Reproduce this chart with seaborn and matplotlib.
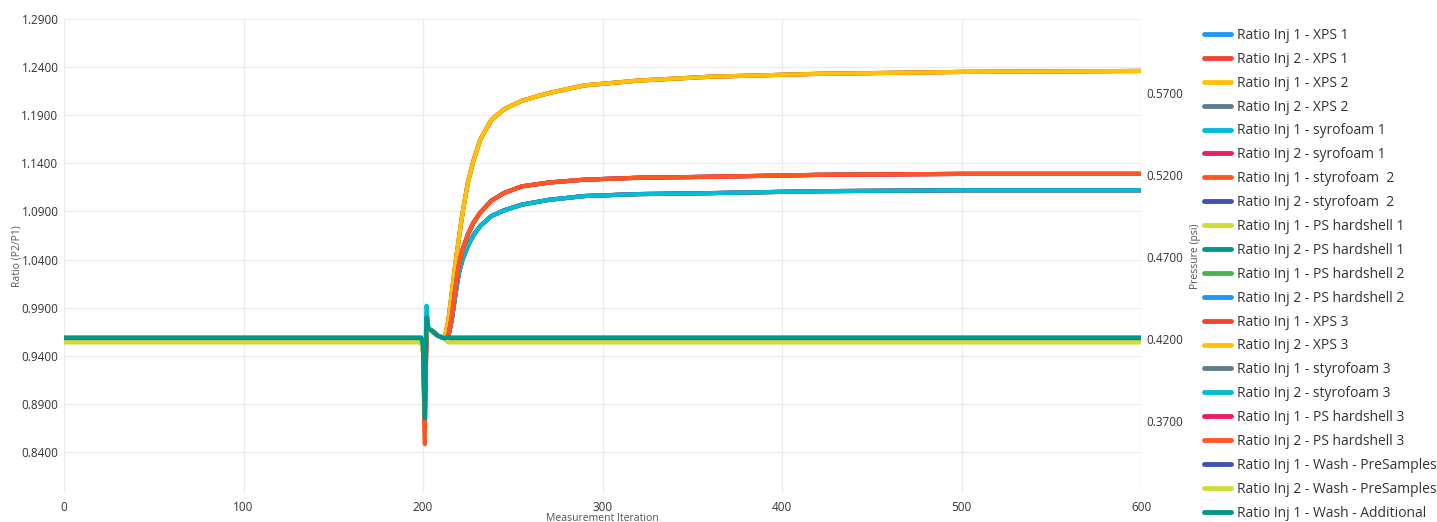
import numpy as np
import pandas as pd
import seaborn as sns
import matplotlib.pyplot as plt
from matplotlib.ticker import FormatStrFormatter

# series names (legend order) and colours
series = [
    "Ratio Inj 1 - XPS 1", "Ratio Inj 2 - XPS 1",
    "Ratio Inj 1 - XPS 2", "Ratio Inj 2 - XPS 2",
    "Ratio Inj 1 - syrofoam 1", "Ratio Inj 2 - syrofoam 1",
    "Ratio Inj 1 - styrofoam  2", "Ratio Inj 2 - styrofoam  2",
    "Ratio Inj 1 - PS hardshell 1", "Ratio Inj 2 - PS hardshell 1",
    "Ratio Inj 1 - PS hardshell 2", "Ratio Inj 2 - PS hardshell 2",
    "Ratio Inj 1 - XPS 3", "Ratio Inj 2 - XPS 3",
    "Ratio Inj 1 - styrofoam 3", "Ratio Inj 2 - styrofoam 3",
    "Ratio Inj 1 - PS hardshell 3", "Ratio Inj 2 - PS hardshell 3",
    "Ratio Inj 1 - Wash - PreSamples", "Ratio Inj 2 - Wash - PreSamples",
    "Ratio Inj 1 - Wash - Additional",
]
colors = [
    "#2196F3", "#F44336", "#FFC107", "#607D8B", "#00BCD4", "#E91E63",
    "#FF5722", "#3F51B5", "#CDDC39", "#009688", "#4CAF50", "#2196F3",
    "#F44336", "#FFC107", "#607D8B", "#00BCD4", "#E91E63", "#FF5722",
    "#3F51B5", "#CDDC39", "#009688",
]
# which curve each series follows after the injection
group = ["mid_hi", "mid_hi", "top", "top", "mid_lo", "mid_lo", "mid_lo", "mid_lo",
         "base", "base", "base", "base", "top", "top", "mid_hi", "mid_lo",
         "mid_hi", "mid_hi", "base", "base", "base"]
# resting level, dip at iteration 201, peak at iteration 202
level = [0.958, 0.957, 0.957, 0.956, 0.956, 0.957, 0.957, 0.958, 0.954, 0.958, 0.958,
         0.957, 0.958, 0.956, 0.957, 0.957, 0.958, 0.956, 0.958, 0.954, 0.959]
dip = [0.93, 0.92, 0.90, 0.91, 0.89, 0.90, 0.848, 0.92, 0.93, 0.88, 0.87,
       0.93, 0.91, 0.90, 0.92, 0.93, 0.90, 0.86, 0.93, 0.94, 0.875]
peak = [0.968, 0.966, 0.970, 0.967, 0.992, 0.966, 0.966, 0.968, 0.962, 0.978, 0.972,
        0.967, 0.966, 0.967, 0.968, 0.985, 0.966, 0.966, 0.967, 0.962, 0.980]

iters = [0, 199, 200, 201, 202, 203, 205, 208, 212, 214, 216, 218, 220, 222, 225,
         228, 232, 238, 245, 255, 270, 290, 320, 360, 420, 500, 600]
after_spike = [0.968, 0.966, 0.961, 0.958]  # iterations 203, 205, 208, 212
top = [0.975, 1.005, 1.035, 1.062, 1.088, 1.120, 1.142, 1.165, 1.185, 1.196,
       1.205, 1.213, 1.221, 1.226, 1.230, 1.233, 1.235, 1.236]
mid_hi = [0.960, 0.980, 1.010, 1.035, 1.050, 1.066, 1.078, 1.089, 1.101, 1.109,
          1.116, 1.120, 1.123, 1.125, 1.126, 1.128, 1.129, 1.129]
mid_lo = [0.959, 0.977, 1.003, 1.026, 1.040, 1.054, 1.065, 1.075, 1.085, 1.091,
          1.097, 1.102, 1.106, 1.108, 1.109, 1.111, 1.112, 1.112]
curves = {"top": top, "mid_hi": mid_hi, "mid_lo": mid_lo}

rows = []
for i, name in enumerate(series):
    tail = curves.get(group[i], [level[i]] * len(top))
    ys = [level[i], level[i], level[i] - 0.01, dip[i], peak[i]] + after_spike + tail
    for x, y in zip(iters, ys):
        rows.append({"series": name, "iter": x, "ratio": y})
df = pd.DataFrame(rows)

sns.set_style("white")
plt.rcParams["font.family"] = ["Open Sans", "DejaVu Sans"]

fig = plt.figure(figsize=(14.37, 5.22), dpi=100)
ax = fig.add_axes([64 / 1437, 1 - 493 / 522, 1077 / 1437, 474 / 522])

sns.lineplot(data=df, x="iter", y="ratio", hue="series", hue_order=series,
             palette=dict(zip(series, colors)), estimator=None, sort=False,
             linewidth=3, ax=ax)

ax.set_xlim(0, 600)
ax.set_ylim(0.7973, 1.29)
ax.set_xticks(range(0, 601, 100))
ax.set_yticks(np.arange(0.84, 1.2901, 0.05))
ax.yaxis.set_major_formatter(FormatStrFormatter("%.4f"))
ax.grid(True, color="#ececec", linewidth=1)
for s in ax.spines.values():
    s.set_visible(False)
ax.tick_params(length=0, labelsize=8.5, labelcolor="#333333")
ax.tick_params(axis="x", pad=6)
ax.tick_params(axis="y", pad=4)
ax.set_xlabel("Measurement Iteration", fontsize=7.5, color="#555555", labelpad=-1)
ax.set_ylabel("Ratio (P2/P1)", fontsize=7.5, color="#555555", labelpad=-1)

ax2 = ax.twinx()
ax2.set_ylim(0.3261, 0.6151)
ax2.set_yticks([0.37, 0.42, 0.47, 0.52, 0.57])
ax2.yaxis.set_major_formatter(FormatStrFormatter("%.4f"))
ax2.tick_params(length=0, labelsize=8.5, labelcolor="#333333", pad=4)
ax2.set_ylabel("Pressure (psi)", fontsize=7.5, color="#555555", labelpad=5)
for s in ax2.spines.values():
    s.set_visible(False)

sns.move_legend(ax, loc="upper left", bbox_to_anchor=(1.0535, 0.993), frameon=False,
                title=None, fontsize=10, labelspacing=0.64, handlelength=1.95,
                handletextpad=0.38, borderaxespad=0)
for ln in ax.get_legend().get_lines():
    ln.set_linewidth(3.5)
for t in ax.get_legend().get_texts():
    t.set_color("#333333")

fig.savefig("out.png", dpi=100)
